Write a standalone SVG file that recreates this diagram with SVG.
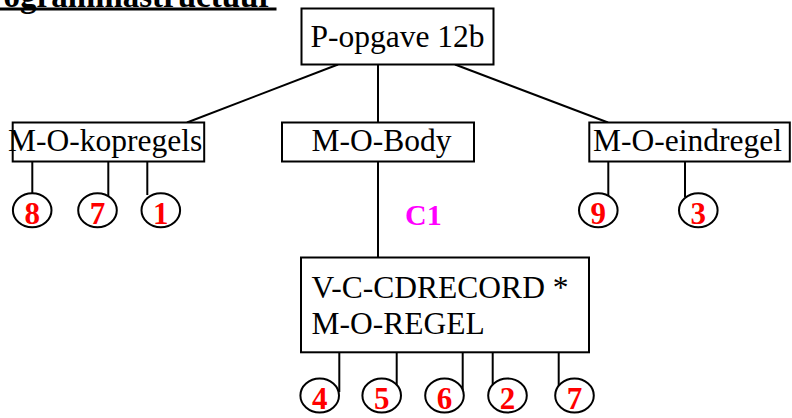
<svg xmlns="http://www.w3.org/2000/svg" width="792" height="418" viewBox="0 0 792 418">
  <style>
    .box { fill: #ffffff; stroke: #000000; stroke-width: 2; }
    .lbl { font-family: "Liberation Serif", "Times New Roman", serif; font-size: 31.5px; fill: #000000; }
    .num { font-family: "Liberation Serif", "Times New Roman", serif; font-size: 31px; font-weight: bold; fill: #ff0000; text-anchor: middle; }
    .cond { font-family: "Liberation Serif", "Times New Roman", serif; font-size: 30px; font-weight: bold; fill: #ff00ff; }
    .ring { fill: #ffffff; stroke: #000000; stroke-width: 2; }
    .edge { stroke: #000000; stroke-width: 2; fill: none; }
    .title { font-family: "Liberation Serif", "Times New Roman", serif; font-size: 33px; font-weight: bold; fill: #000000; text-anchor: end; }
  </style>

  <!-- heading -->
  <g id="heading">
    <text class="title" x="273" y="7">Programmastructuur</text>
    <rect x="0" y="7.5" width="276.5" height="3" fill="#000000"/>
  </g>

  <!-- tree connectors -->
  <g id="connectors">
    <line class="edge" x1="338" y1="64.5" x2="187" y2="122.5"/>
    <line class="edge" x1="378" y1="64.5" x2="378" y2="122.5"/>
    <line class="edge" x1="455" y1="64.5" x2="608" y2="122.5"/>
    <line class="edge" x1="378" y1="161.5" x2="378" y2="257.5"/>
    <!-- leaf stems -->
    <line class="edge" x1="32.3" y1="161.5" x2="32.3" y2="200"/>
    <line class="edge" x1="108.3" y1="161.5" x2="108.3" y2="198"/>
    <line class="edge" x1="147.3" y1="161.5" x2="147.3" y2="195"/>
    <line class="edge" x1="608.3" y1="161.5" x2="608.3" y2="199"/>
    <line class="edge" x1="685" y1="161.5" x2="685" y2="197"/>
    <line class="edge" x1="339.3" y1="352.3" x2="339.3" y2="392"/>
    <line class="edge" x1="396.7" y1="352.3" x2="396.7" y2="392"/>
    <line class="edge" x1="462.7" y1="352.3" x2="462.7" y2="390"/>
    <line class="edge" x1="492.7" y1="352.3" x2="492.7" y2="390"/>
    <line class="edge" x1="558.7" y1="352.3" x2="558.7" y2="390"/>
  </g>

  <g id="p-opgave">
    <rect class="box" x="301.5" y="8.5" width="192" height="56"/>
    <text class="lbl" x="310.5" y="47">P-opgave 12b</text>
  </g>

  <g id="kopregels">
    <rect class="box" x="12.7" y="122.5" width="191.5" height="39"/>
    <text class="lbl" x="8" y="150.7">M-O-kopregels</text>
  </g>

  <g id="body">
    <rect class="box" x="282" y="122.5" width="192" height="39"/>
    <text class="lbl" x="311.5" y="150.7">M-O-Body</text>
  </g>

  <g id="eindregel">
    <rect class="box" x="589.3" y="122.5" width="200.5" height="39"/>
    <text class="lbl" x="593" y="150.7">M-O-eindregel</text>
  </g>

  <g id="condition">
    <text class="cond" x="405" y="225">C1</text>
  </g>

  <g id="cdrecord">
    <rect class="box" x="301" y="257.5" width="288" height="94.8"/>
    <text class="lbl" x="311.5" y="297.7">V-C-CDRECORD *</text>
    <text class="lbl" x="311.5" y="334">M-O-REGEL</text>
  </g>

  <!-- numbered leaves -->
  <g id="leaf-8"><ellipse class="ring" cx="32.2" cy="210.3" rx="19.3" ry="17"/><text class="num" x="32.2" y="223.5">8</text></g>
  <g id="leaf-7a"><ellipse class="ring" cx="97.5" cy="210.3" rx="19.3" ry="17"/><text class="num" x="97.5" y="223.5">7</text></g>
  <g id="leaf-1"><ellipse class="ring" cx="160.8" cy="210.3" rx="19.3" ry="17"/><text class="num" x="160.8" y="223.5">1</text></g>
  <g id="leaf-9"><ellipse class="ring" cx="598.3" cy="210.3" rx="19.3" ry="17"/><text class="num" x="598.3" y="223.5">9</text></g>
  <g id="leaf-3"><ellipse class="ring" cx="698.3" cy="210.3" rx="19.3" ry="17"/><text class="num" x="698.3" y="223.5">3</text></g>

  <g id="leaf-4"><ellipse class="ring" cx="319.7" cy="395.5" rx="19.3" ry="17"/><text class="num" x="319.7" y="408.5">4</text></g>
  <g id="leaf-5"><ellipse class="ring" cx="381.7" cy="395.5" rx="19.3" ry="17"/><text class="num" x="381.7" y="408.5">5</text></g>
  <g id="leaf-6"><ellipse class="ring" cx="444.5" cy="395.5" rx="19.3" ry="17"/><text class="num" x="444.5" y="408.5">6</text></g>
  <g id="leaf-2"><ellipse class="ring" cx="507.5" cy="395.5" rx="19.3" ry="17"/><text class="num" x="507.5" y="408.5">2</text></g>
  <g id="leaf-7b"><ellipse class="ring" cx="574.5" cy="395.5" rx="19.3" ry="17"/><text class="num" x="574.5" y="408.5">7</text></g>
</svg>
